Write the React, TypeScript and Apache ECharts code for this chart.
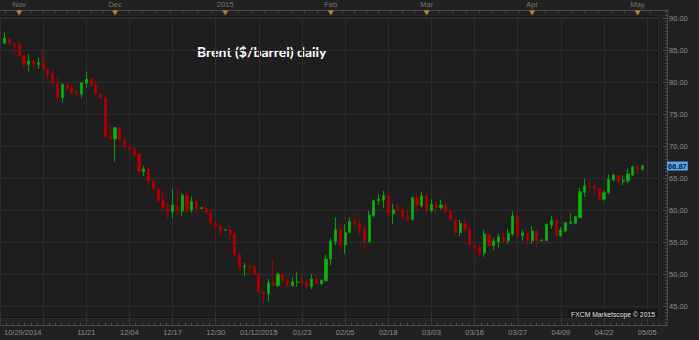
import React, { useEffect, useRef } from 'react';
import * as echarts from 'echarts';

// ---------------- data ----------------
const calendarStart = '2014-10-01';
const firstCandleDate = '2014-10-29';
const slotCount = 135; // weekday slots 10/29/2014 .. 05/05/2015
const monthMarkLabels = ['Nov', 'Dec', '2015', 'Feb', 'Mar', 'Apr', 'May'];
const lastPrice = 66.87;
const titleText = 'Brent ($/barrel) daily';
const watermarkText = 'FXCM Marketscope \u00a9 2015';

// [open, close, low, high], one per weekday starting 10/29/2014
const candles: number[][] = [
  [86.04, 86.82, 86.0, 87.76], [86.82, 86.04, 85.78, 86.9], [86.04, 85.78, 84.48, 86.1], [85.94, 84.11, 84.0, 86.3],
  [84.11, 82.81, 82.03, 84.2], [82.76, 83.28, 81.62, 84.38], [83.28, 82.76, 82.08, 83.3], [82.76, 83.02, 82.08, 83.8],
  [83.02, 82.03, 82.0, 84.9], [82.03, 81.09, 80.42, 82.1], [81.2, 79.79, 79.7, 81.9], [79.79, 77.55, 77.29, 80.94],
  [77.55, 79.63, 76.77, 79.7], [79.63, 79.01, 78.5, 79.9], [79.12, 78.33, 78.13, 79.63], [78.49, 78.13, 78.0, 79.0],
  [78.13, 79.9, 77.55, 79.95], [79.79, 80.47, 79.01, 81.62], [80.47, 79.43, 79.3, 80.6], [79.53, 78.07, 77.97, 80.2],
  [78.13, 77.45, 77.3, 78.2], [77.55, 71.46, 71.3, 77.6], [71.62, 71.1, 70.94, 73.28], [71.1, 72.87, 67.55, 73.0],
  [72.87, 70.94, 70.8, 73.0], [70.94, 69.9, 69.64, 71.46], [69.9, 69.37, 69.27, 70.4], [69.53, 68.6, 68.23, 69.9],
  [68.75, 65.99, 65.83, 68.85], [65.99, 66.41, 65.31, 66.93], [66.41, 64.43, 63.65, 66.5], [64.43, 63.23, 63.1, 64.95],
  [63.28, 61.41, 61.3, 63.3], [61.46, 60.42, 60.0, 63.13], [60.52, 59.74, 58.6, 61.15], [59.74, 60.78, 58.7, 63.28],
  [60.63, 59.9, 59.06, 63.54], [59.84, 62.34, 59.06, 62.6], [62.34, 60.0, 59.6, 62.86], [60.0, 61.3, 59.6, 62.08],
  [61.3, 60.16, 59.48, 61.67], [60.21, 60.36, 60.15, 60.4], [60.26, 59.58, 59.22, 60.78], [59.58, 58.02, 57.4, 60.26],
  [58.02, 57.4, 57.0, 58.33], [57.5, 56.72, 55.83, 57.6], [56.85, 56.9, 56.8, 56.95], [56.88, 56.25, 55.42, 57.76],
  [56.35, 52.97, 52.6, 56.4], [53.07, 51.04, 50.63, 53.39], [51.1, 51.2, 49.69, 51.77], [51.2, 51.04, 50.0, 51.77],
  [51.15, 50.0, 49.85, 51.4], [50.0, 47.24, 47.1, 50.1], [47.24, 46.82, 45.31, 47.4], [46.88, 48.65, 45.68, 49.22],
  [48.65, 48.28, 48.13, 52.34], [48.18, 50.0, 48.02, 50.21], [50.0, 48.96, 48.8, 50.26], [48.96, 48.18, 48.02, 49.32],
  [48.18, 48.8, 48.02, 49.48], [48.7, 48.8, 48.02, 50.36], [48.8, 48.65, 48.5, 49.74], [48.75, 48.02, 47.6, 49.17],
  [48.02, 49.22, 47.6, 50.0], [49.22, 48.44, 48.3, 49.74], [48.44, 49.06, 48.4, 49.1], [48.96, 52.34, 48.8, 52.97],
  [52.34, 55.16, 51.4, 55.57], [55.05, 56.98, 54.53, 58.85], [56.98, 54.53, 53.65, 58.02], [54.53, 56.51, 53.13, 57.76],
  [56.51, 58.18, 56.3, 58.85], [58.18, 57.92, 56.98, 59.38], [57.92, 57.03, 56.09, 58.44], [57.03, 55.05, 53.91, 57.76],
  [55.05, 59.22, 54.9, 59.84], [59.11, 61.46, 58.9, 61.67], [61.46, 61.67, 60.78, 62.45], [61.56, 62.24, 60.26, 62.97],
  [62.24, 59.38, 59.22, 62.34], [59.38, 60.1, 57.81, 60.89], [60.1, 59.9, 59.7, 61.04], [60.0, 58.96, 58.6, 60.36],
  [58.96, 58.54, 58.18, 60.1], [58.54, 61.93, 58.4, 62.08], [61.93, 60.68, 59.74, 62.6], [60.63, 62.19, 60.4, 62.86],
  [62.19, 59.9, 59.48, 62.3], [59.9, 60.89, 59.6, 61.67], [60.89, 60.36, 59.48, 61.3], [60.36, 60.78, 60.1, 61.56],
  [60.78, 59.74, 59.5, 61.3], [59.84, 58.44, 58.3, 59.9], [58.54, 56.46, 56.09, 58.7], [56.46, 57.92, 55.94, 58.44],
  [57.92, 56.98, 56.6, 58.7], [57.03, 54.43, 54.3, 57.5], [54.43, 54.17, 52.81, 55.05], [54.17, 53.23, 52.7, 54.5],
  [53.23, 56.25, 52.7, 56.88], [56.2, 54.43, 54.3, 56.35], [54.43, 55.16, 53.75, 55.68], [55.05, 55.83, 54.11, 56.35],
  [55.73, 55.05, 54.8, 56.72], [55.21, 56.35, 54.79, 57.03], [56.25, 59.06, 56.0, 59.74], [59.06, 56.0, 55.8, 59.2],
  [56.0, 56.46, 55.21, 56.88], [56.35, 55.21, 54.7, 56.6], [55.21, 56.72, 54.7, 57.55], [56.72, 55.21, 54.01, 56.8],
  [55.21, 55.31, 55.1, 55.4], [55.21, 57.76, 55.1, 57.8], [57.66, 58.33, 57.03, 59.11], [58.33, 56.09, 55.9, 58.44],
  [56.0, 56.88, 55.8, 57.29], [56.72, 58.02, 56.5, 58.1], [57.92, 58.07, 57.81, 59.48], [57.92, 58.96, 57.8, 59.1],
  [58.8, 62.86, 58.7, 63.49], [62.76, 63.75, 62.08, 64.84], [63.75, 63.65, 62.97, 64.43], [63.75, 63.39, 62.08, 64.32],
  [63.39, 61.67, 61.5, 63.49], [61.67, 62.71, 61.46, 63.02], [62.71, 64.79, 62.45, 65.47], [64.69, 65.42, 64.5, 65.73],
  [65.42, 64.43, 64.3, 65.5], [64.43, 64.58, 63.91, 65.47], [64.53, 65.63, 64.17, 66.51], [65.47, 66.77, 65.3, 66.93],
  [66.77, 66.41, 65.73, 66.93], [66.41, 66.87, 66.09, 67.03],
];

// ---------------- layout / style ----------------
const W = 699;
const H = 340;
const STEP = 4.82; // px per weekday slot
const X_FIRST = 1.2; // px of first slot
const GRID_LEFT = X_FIRST - STEP; // px of axis unit 0 (slot index -1)
const PLOT_RIGHT = 658;
const PLOT_TOP = 17;
const PLOT_BOTTOM = 318;
const FRAME_RIGHT = 667;
const FRAME_TOP = 10.5;
const FRAME_BOTTOM = 325.5;
const Y_OF_90 = 18;
const PX_PER_DOLLAR = 6.4;
const priceAtPx = (y: number) => 90 - (y - Y_OF_90) / PX_PER_DOLLAR;
const unitAtPx = (x: number) => (x - GRID_LEFT) / STEP;

const BG = '#212121';
const PLOT_BG = '#1e1e1e';
const GRID_LINE = '#2d2d2d';
const FRAME = '#4c4c4c';
const LABEL = '#8e8e8e';
const FONT = '"Liberation Sans", Arial, sans-serif';
const FS = 7.5;

// ---------------- calendar helpers ----------------
function weekdays(start: string, count: number): Date[] {
  const out: Date[] = [];
  const d = new Date(start + 'T00:00:00Z');
  while (out.length < count) {
    const wd = d.getUTCDay();
    if (wd !== 0 && wd !== 6) out.push(new Date(d.getTime()));
    d.setUTCDate(d.getUTCDate() + 1);
  }
  return out;
}
const calendar = weekdays(calendarStart, 200);
const offset = calendar.findIndex((d) => d.toISOString().slice(0, 10) === firstCandleDate);
const slotDates = calendar.slice(offset, offset + slotCount);
const pad = (n: number) => (n < 10 ? '0' + n : '' + n);
const mmdd = (d: Date) => pad(d.getUTCMonth() + 1) + '/' + pad(d.getUTCDate());
const mmddyyyy = (d: Date) => mmdd(d) + '/' + d.getUTCFullYear();

// month starts, expressed as slot index relative to first candle
const monthStarts: number[] = [];
for (let i = 1; i < calendar.length; i++) {
  if (calendar[i].getUTCMonth() !== calendar[i - 1].getUTCMonth()) monthStarts.push(i - offset);
}
const monthStartsAll = [-offset, ...monthStarts];

export default function App() {
  const ref = useRef<HTMLDivElement>(null);
  useEffect(() => {
    if (!ref.current) return;
    const chart = echarts.init(ref.current, undefined, { renderer: 'svg' });

    const uMaxA = unitAtPx(PLOT_RIGHT);
    const uMaxB = unitAtPx(FRAME_RIGHT);
    const vMaxB = (uMaxB * 7) / 9;

    const candleData = candles.map((c, i) => [i + 1, c[0], c[1], c[2], c[3]]);

    // month triangles with labels (first 7 month starts after first candle)
    const visibleStarts = monthStarts.filter((s) => s >= 0 && unitAtPx(0) < s + 1).slice(0, monthMarkLabels.length);
    const triY = priceAtPx(13);
    const triData = visibleStarts.map((s, k) => ({ value: [s + 1, triY], name: monthMarkLabels[k] }));

    // small ticks on the top strip: 8 per month
    const tickY = priceAtPx(12);
    const topTicks: number[][] = [];
    for (let m = 0; m + 1 < monthStartsAll.length; m++) {
      const s = monthStartsAll[m];
      const e = monthStartsAll[m + 1];
      for (let k = 1; k < 8; k++) {
        const u = s + ((e - s) * k) / 8 + 1;
        if (u > 0 && u < uMaxB - 1) topTicks.push([u, tickY]);
      }
    }

    const bottomLabel = (v: number) => {
      const r = Math.round(v);
      if (Math.abs(v - r) > 1e-6 || r % 7 !== 0) return '';
      if (r === 0) return '{first|' + mmddyyyy(slotDates[0]) + '}';
      const idx = (r / 7) * 9 - 1;
      if (idx < 12 || idx >= slotDates.length) return '';
      const d = slotDates[idx];
      const prev = slotDates[idx - 9];
      return prev && prev.getUTCFullYear() !== d.getUTCFullYear() ? mmddyyyy(d) : mmdd(d);
    };

    const option: any = {
      animation: false,
      backgroundColor: BG,
      grid: [
        {
          left: GRID_LEFT,
          right: W - PLOT_RIGHT,
          top: PLOT_TOP,
          height: PLOT_BOTTOM - PLOT_TOP,
          show: true,
          backgroundColor: PLOT_BG,
          borderColor: '#0a0a0a',
          borderWidth: 1,
        },
        {
          left: GRID_LEFT,
          right: W - FRAME_RIGHT,
          top: FRAME_TOP,
          height: FRAME_BOTTOM - FRAME_TOP,
        },
      ],
      xAxis: [
        {
          gridIndex: 0,
          type: 'value',
          min: 0,
          max: uMaxA,
          interval: 9,
          axisLine: { show: false },
          axisTick: { show: false },
          axisLabel: { show: false },
          splitLine: { show: true, lineStyle: { color: GRID_LINE, width: 1 } },
        },
        {
          gridIndex: 1,
          type: 'value',
          position: 'bottom',
          min: 0,
          max: vMaxB,
          interval: 1,
          axisLine: { show: true, onZero: false, lineStyle: { color: FRAME, width: 1 } },
          axisTick: { show: true, inside: true, length: 3, lineStyle: { color: FRAME } },
          axisLabel: {
            show: true,
            margin: 3,
            color: LABEL,
            fontSize: FS,
            fontFamily: FONT,
            alignMinLabel: 'left',
            formatter: bottomLabel,
            rich: { first: { color: LABEL, fontSize: FS, fontFamily: FONT, padding: [0, 0, 0, 4] } },
          },
          splitLine: { show: false },
        },
        {
          gridIndex: 1,
          type: 'value',
          position: 'bottom',
          min: 0,
          max: uMaxB,
          interval: 9,
          axisLine: { show: false, onZero: false },
          axisTick: { show: true, inside: true, length: FRAME_BOTTOM - PLOT_BOTTOM, lineStyle: { color: '#3a3a3a' } },
          axisLabel: { show: false },
          splitLine: { show: false },
        },
        {
          gridIndex: 1,
          type: 'value',
          position: 'top',
          min: 0,
          max: uMaxB,
          axisLine: { show: true, onZero: false, lineStyle: { color: FRAME, width: 1 } },
          axisTick: { show: false },
          axisLabel: { show: false },
          splitLine: { show: false },
        },
      ],
      yAxis: [
        {
          gridIndex: 0,
          type: 'value',
          min: priceAtPx(PLOT_BOTTOM),
          max: priceAtPx(PLOT_TOP),
          splitNumber: 9,
          axisLine: { show: false },
          axisTick: { show: false },
          axisLabel: { show: false },
          splitLine: { show: true, lineStyle: { color: GRID_LINE, width: 1 } },
        },
        {
          gridIndex: 1,
          type: 'value',
          position: 'right',
          min: priceAtPx(FRAME_BOTTOM),
          max: priceAtPx(FRAME_TOP),
          splitNumber: 9,
          axisLine: { show: true, onZero: false, lineStyle: { color: FRAME, width: 1 } },
          axisTick: { show: true, inside: true, length: 4, lineStyle: { color: FRAME } },
          minorTick: { show: true, splitNumber: 10, length: 2, lineStyle: { color: FRAME } },
          axisLabel: {
            show: true,
            margin: 2,
            color: LABEL,
            fontSize: FS,
            fontFamily: FONT,
            showMinLabel: false,
            showMaxLabel: false,
            formatter: (v: number) => v.toFixed(2),
          },
          splitLine: { show: false },
        },
      ],
      series: [
        {
          type: 'candlestick',
          xAxisIndex: 0,
          yAxisIndex: 0,
          data: candleData,
          barWidth: 2.6,
          clip: false,
          itemStyle: {
            color: '#0cb40c',
            color0: '#b40000',
            borderColor: '#0a9c0a',
            borderColor0: '#9c0000',
            borderWidth: 1,
          },
          markLine: {
            silent: true,
            symbol: ['none', 'none'],
            lineStyle: { color: 'transparent', width: 0 },
            label: {
              show: true,
              position: 'end',
              distance: 9,
              formatter: (p: any) => Number(p.value).toFixed(2),
              backgroundColor: '#58a8f0',
              color: '#0a1a30',
              fontSize: FS,
              fontFamily: FONT,
              fontWeight: 'bold',
              lineHeight: 8,
              padding: [1, 1, 0, 1],
            },
            data: [{ yAxis: lastPrice }],
          },
        },
        {
          type: 'scatter',
          xAxisIndex: 3,
          yAxisIndex: 1,
          clip: false,
          silent: true,
          symbol: 'rect',
          symbolSize: [1, 3],
          itemStyle: { color: FRAME },
          data: topTicks,
        },
        {
          type: 'scatter',
          xAxisIndex: 3,
          yAxisIndex: 1,
          clip: false,
          silent: true,
          symbol: 'triangle',
          symbolRotate: 180,
          symbolSize: [6, 5],
          itemStyle: { color: '#d4a21c' },
          label: {
            show: true,
            position: 'top',
            distance: 2,
            formatter: '{b}',
            color: LABEL,
            fontSize: FS,
            fontFamily: FONT,
          },
          data: triData,
        },
      ],
      graphic: [
        {
          type: 'text',
          x: 197,
          y: 51,
          style: {
            text: titleText,
            fill: '#ffffff',
            fontSize: 14,
            fontWeight: 'bold',
            fontFamily: 'Lato, "Open Sans", sans-serif',
            align: 'left',
            verticalAlign: 'middle',
          },
        },
        {
          type: 'text',
          x: PLOT_RIGHT - 1,
          y: PLOT_BOTTOM - 0.5,
          z: 10,
          style: {
            text: watermarkText,
            fill: '#e4e4e4',
            fontSize: 6.8,
            fontFamily: FONT,
            align: 'right',
            verticalAlign: 'bottom',
            backgroundColor: '#131313',
            padding: [1, 2, 0, 2],
          },
        },
      ],
    };

    chart.setOption(option);
    return () => chart.dispose();
  }, []);

  return (
    <div
      ref={ref}
      style={{ position: 'fixed', left: 0, top: 0, width: W, height: H, background: BG }}
    />
  );
}
